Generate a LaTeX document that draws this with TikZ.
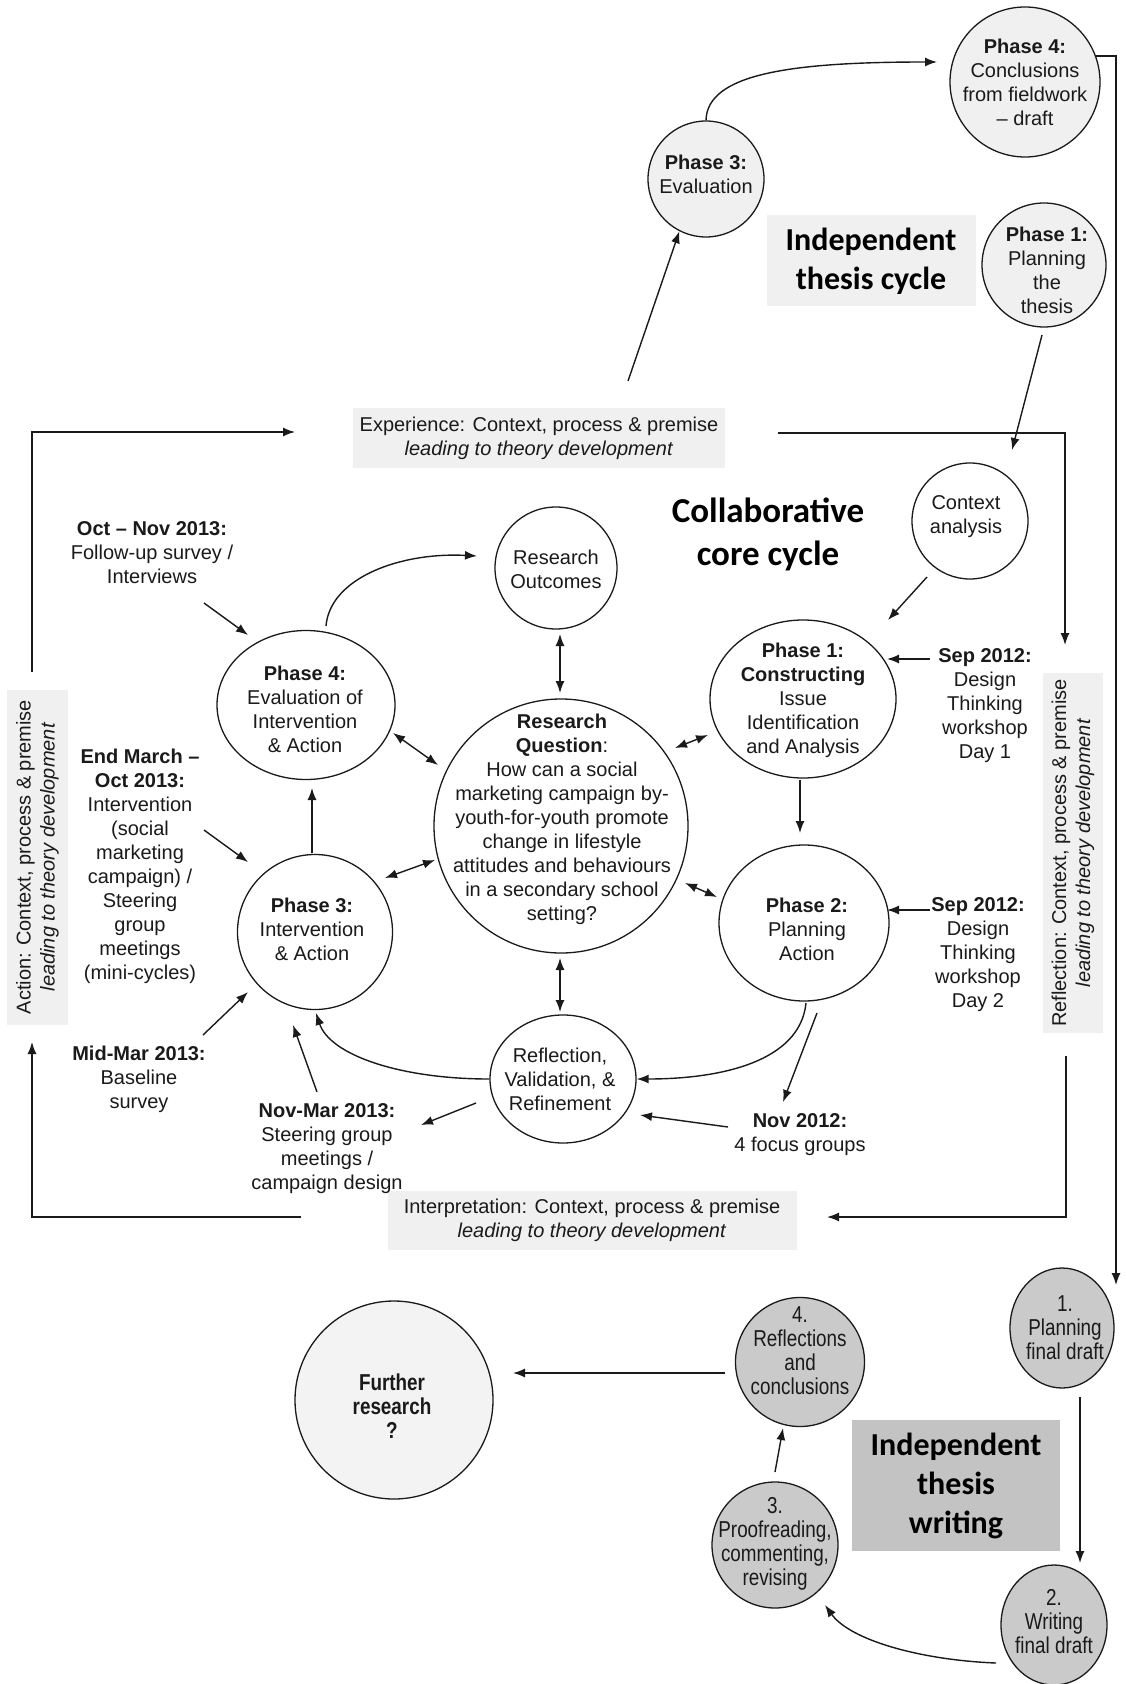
\documentclass[tikz,border=0pt]{standalone}
\usepackage{fontspec}
\setmainfont{Liberation Sans}
\newfontfamily\titlefont{Carlito}
\newfontfamily\narrowfont[FakeStretch=0.82]{Liberation Sans}
\usetikzlibrary{arrows.meta,shapes.geometric}

\definecolor{inkc}{RGB}{26,26,26}
\definecolor{palefill}{RGB}{240,240,240}
\definecolor{furtherfill}{RGB}{243,243,243}
\definecolor{stepfill}{RGB}{202,202,202}
\definecolor{writebox}{RGB}{195,195,195}

\begin{document}
\begin{tikzpicture}[x=0.5pt,y=-0.5pt,
  arr/.style={line width=0.7pt, draw=inkc, -{Latex[length=6pt,width=4.5pt]}},
  darr/.style={line width=0.7pt, draw=inkc, {Latex[length=6pt,width=4.5pt]}-{Latex[length=6pt,width=4.5pt]}},
  ring/.style={circle, draw=inkc, line width=0.65pt, inner sep=0pt, fill=white},
  oval/.style={ellipse, draw=inkc, line width=0.65pt, inner sep=0pt, fill=white},
  txt/.style={align=center, inner sep=0pt, text=inkc, font=\fontsize{10}{12}\selectfont},
  narrowtxt/.style={align=center, inner sep=0pt, text=inkc, font=\narrowfont\fontsize{11.5}{12}\selectfont},
  titletxt/.style={align=center, inner sep=0pt, text=black, font=\titlefont\bfseries\fontsize{16}{19.5}\selectfont},
  shadebox/.style={fill=palefill, inner sep=0pt, align=center, text=inkc, font=\fontsize{10}{12}\selectfont},
]
\fill[white] (0,0) rectangle (1126,1684);
\useasboundingbox (0,0) rectangle (1126,1684);

% ---------- independent thesis cycle (top) ----------
\node[ring, fill=palefill, minimum size=75pt] (th4) at (1025,82) {};
\node[txt] (th4t) at (1025,82.5) {\textbf{Phase 4:}\\Conclusions\\from fieldwork\\– draft};
\node[ring, fill=palefill, minimum size=58pt] (ev3) at (706,179) {};
\node[txt] (ev3t) at (706,174) {\textbf{Phase 3:}\\Evaluation};
\node[ring, fill=palefill, minimum size=62pt] (th1) at (1044,265) {};
\node[txt] (th1t) at (1047,270) {\textbf{Phase 1:}\\Planning\\the\\thesis};
\node[shadebox, titletxt, minimum width=104.5pt, minimum height=45.5pt] (tcyc) at (871,261) {Independent\\thesis cycle};

% ---------- framing labels ----------
\node[shadebox, minimum width=186pt, minimum height=29.5pt] (exp) at (539,438)
  {Experience: Context, process \& premise\\\textit{leading to theory development}};
\node[shadebox, minimum width=204.5pt, minimum height=29.5pt] (interp) at (592,1220)
  {Interpretation: Context, process \& premise\\\textit{leading to theory development}};
\node[shadebox, rotate=90, minimum width=167.5pt, minimum height=30.5pt] (act) at (37.5,857)
  {Action: Context, process \& premise\\\textit{leading to theory development}};
\node[shadebox, rotate=90, minimum width=180pt, minimum height=30pt] (refb) at (1073,853)
  {Reflection: Context, process \& premise\\\textit{leading to theory development}};

% ---------- collaborative core cycle ----------
\node[titletxt, font=\titlefont\bfseries\fontsize{17.5}{21.5}\selectfont] (collab) at (768,534) {Collaborative\\core cycle};
\node[ring, minimum size=58pt] (ctx) at (970,521) {};
\node[txt] (ctxt) at (966,517) {Context\\analysis};
\node[ring, minimum size=61pt] (ro) at (556,568) {};
\node[txt] (rot) at (556,569) {Research\\Outcomes};
\node[ring, minimum size=127pt] (rq) at (561,826) {};
\node[txt] (rqt) at (562,819) {\textbf{Research}\\\textbf{Question}:\\How can a social\\marketing campaign by-\\youth-for-youth promote\\change in lifestyle\\attitudes and behaviours\\in a secondary school\\setting?};
\node[oval, minimum width=93pt, minimum height=79pt] (ph1) at (803,699) {};
\node[txt] (ph1t) at (803,700) {\textbf{Phase 1:}\\\textbf{Constructing}\\Issue\\Identification\\and Analysis};
\node[oval, minimum width=85pt, minimum height=78pt] (ph2) at (804,923) {};
\node[txt] (ph2t) at (807,929) {\textbf{Phase 2:}\\Planning\\Action};
\node[ring, minimum size=77.5pt] (ph3) at (315,932) {};
\node[txt] (ph3t) at (312,929) {\textbf{Phase 3:}\\Intervention\\\& Action};
\node[oval, minimum width=89pt, minimum height=74.5pt] (ph4) at (306,705) {};
\node[txt] (ph4t) at (305,709) {\textbf{Phase 4:}\\Evaluation of\\Intervention\\\& Action};
\node[oval, minimum width=73pt, minimum height=64pt] (refl) at (563,1079) {};
\node[txt] (reflt) at (560,1079) {Reflection,\\Validation, \&\\Refinement};

% ---------- dated activities ----------
\node[txt] (oct) at (152,553) {\textbf{Oct – Nov 2013:}\\Follow-up survey /\\Interviews};
\node[txt] (endm) at (140,866.5) {\textbf{End March –}\\\textbf{Oct 2013:}\\Intervention\\(social\\marketing\\campaign) /\\Steering\\group\\meetings\\(mini-cycles)};
\node[txt] (midm) at (139,1079) {\textbf{Mid-Mar 2013:}\\Baseline\\survey};
\node[txt] (novm) at (327,1148.5) {\textbf{Nov-Mar 2013:}\\Steering group\\meetings /\\campaign design};
\node[txt] (sep1) at (985,706) {\textbf{Sep 2012:}\\Design\\Thinking\\workshop\\Day 1};
\node[txt] (sep2) at (978,955) {\textbf{Sep 2012:}\\Design\\Thinking\\workshop\\Day 2};
\node[txt] (nov12) at (800,1135) {\textbf{Nov 2012:}\\4 focus groups};

% ---------- independent thesis writing (bottom) ----------
\node[ring, fill=furtherfill, minimum size=99pt] (fur) at (394,1400) {};
\node[narrowtxt, font=\narrowfont\bfseries\fontsize{11.5}{12}\selectfont] (furt) at (392,1406) {Further\\research\\?};
\node[ring, fill=stepfill, minimum size=64.5pt] (w4) at (800,1362) {};
\node[narrowtxt] (w4t) at (800,1351) {4.\\Reflections\\and\\conclusions};
\node[ring, fill=stepfill, minimum size=63pt] (w3) at (775,1545) {};
\node[narrowtxt] (w3t) at (775,1543.5) {3.\\Proofreading,\\commenting,\\revising};
\node[oval, fill=stepfill, minimum width=52pt, minimum height=60pt] (w1) at (1062,1328) {};
\node[narrowtxt] (w1t) at (1065,1328) {1.\\Planning\\final draft};
\node[oval, fill=stepfill, minimum width=53pt, minimum height=60pt] (w2) at (1054,1625) {};
\node[narrowtxt] (w2t) at (1054,1621.5) {2.\\Writing\\final draft};
\node[titletxt, fill=writebox, minimum width=104pt, minimum height=65.5pt] (wbox) at (956,1485.5) {Independent\\thesis\\writing};

% ---------- free connector ends ----------
\coordinate (e3s) at (628,381);
\coordinate (th4in) at (937,62);
\coordinate (w1in) at (1116,1285);
\coordinate (th1out) at (1042,335);
\coordinate (ctxin) at (1012,450);
\coordinate (expr) at (778,433);
\coordinate (refin) at (1065,645);
\coordinate (acttop) at (32,672);
\coordinate (expl) at (295,432);
\coordinate (ctxout) at (927,577);
\coordinate (ph1in) at (888,620);
\coordinate (s1out) at (930,659);
\coordinate (ph1s1) at (887,659);
\coordinate (ph1out) at (800,780);
\coordinate (ph2in) at (800,833);
\coordinate (s2out) at (930,910);
\coordinate (ph2s2) at (887,910);
\coordinate (refbot) at (1066,1056);
\coordinate (interpr) at (827,1217);
\coordinate (interpl) at (301,1217);
\coordinate (actin) at (32,1042);
\coordinate (ph4top) at (326,626);
\coordinate (roin) at (477,556);
\coordinate (w4out) at (725,1373);
\coordinate (furin) at (513,1373);

% ---------- connectors: thesis cycle ----------
\draw[arr] (ev3.north) .. controls (707,74) and (790,62) .. (th4in);
\draw[arr] (e3s) -- (ev3.243);
\draw[arr] (th4.20) -| (w1in);
\draw[arr] (th1out) -- (ctxin);

% ---------- connectors: framing loop ----------
\draw[arr] (expr) -| (refin);
\draw[arr] (acttop) |- (expl);
\draw[arr] (refbot) |- (interpr);
\draw[arr] (interpl) -| (actin);

% ---------- connectors: core cycle ----------
\draw[arr] (ctxout) -- (ph1in);
\draw[arr] (s1out) -- (ph1s1);
\draw[arr] (ph1out) -- (ph2in);
\draw[arr] (s2out) -- (ph2s2);
\draw[darr] (560,634) coordinate (roq1) -- (560,693) coordinate (roq2);
\draw[darr] (393,733) coordinate (p4q1) -- (438,765) coordinate (p4q2);
\draw[darr] (385,878) coordinate (p3q1) -- (435,860) coordinate (p3q2);
\draw[darr] (675,748) coordinate (p1q1) -- (708,735) coordinate (p1q2);
\draw[darr] (685,883) coordinate (p2q1) -- (717,897) coordinate (p2q2);
\draw[darr] (560,958) coordinate (rfq1) -- (560,1012) coordinate (rfq2);
\draw[arr] (ph4top) .. controls (330,578) and (400,552) .. (roin);
\draw[arr] (204,603) coordinate (octa) -- (248,635) coordinate (octb);
\draw[arr] (204,830) coordinate (enda) -- (248,862) coordinate (endb);
\draw[arr] (312,853) coordinate (p3a) -- (312,788) coordinate (p4b);
\draw[arr] (203,1035) coordinate (mida) -- (248,992) coordinate (midb);
\draw[arr] (317,1092) coordinate (nvma) -- (293,1025) coordinate (nvmb);
\draw[arr] (refl.west) .. controls (400,1079) and (330,1055) .. (316,1013) coordinate (p3c);
\draw[arr] (806,1003) coordinate (p2c) .. controls (800,1062) and (720,1079) .. (refl.east);
\draw[arr] (817,1013) coordinate (p2d) -- (783,1102) coordinate (n12b);
\draw[arr] (728,1127) coordinate (n12a) -- (640,1115) coordinate (rflb);
\draw[arr] (476,1103) coordinate (rfla) -- (421,1125) coordinate (nvmc);

% ---------- connectors: thesis writing ----------
\draw[arr] (w4out) -- (furin);
\draw[arr] (775,1472) coordinate (w3out) -- (783,1428) coordinate (w4in);
\draw[arr] (1080,1397) coordinate (w1out) -- (1080,1563) coordinate (w2in);
\draw[arr] (996,1663) coordinate (w2out) .. controls (920,1660) and (850,1640) .. (825,1605) coordinate (w3in);
\end{tikzpicture}
\end{document}
